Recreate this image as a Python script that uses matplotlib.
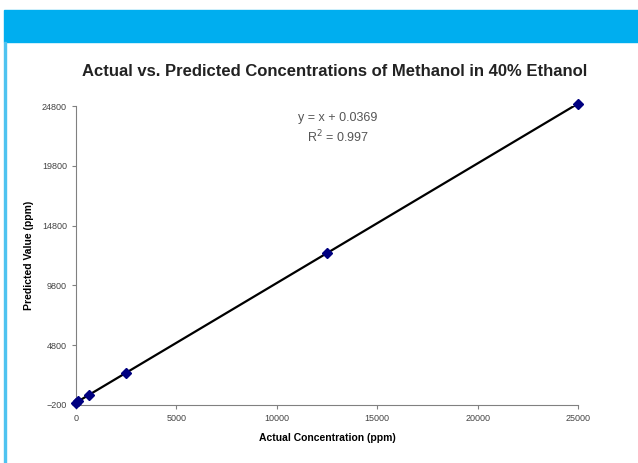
import numpy as np
import matplotlib.pyplot as plt
from matplotlib.patches import Rectangle

plt.rcParams['font.family'] = ['Liberation Sans', 'DejaVu Sans']

# данные
actual = [0, 100, 625, 2500, 12500, 25000]
predicted = [0, 110, 610, 2480, 12520, 25000]
x_ticks = [0, 5000, 10000, 15000, 20000, 25000]
y_ticks = [-200, 4800, 9800, 14800, 19800, 24800]
slope = 1.0
intercept = 0.0369

fig = plt.figure(figsize=(6.38, 4.63), dpi=100)
fig.patch.set_facecolor("white")

# синяя полоса сверху и линия слева
fig.patches.append(Rectangle((4 / 638, 1 - 42 / 463), 634 / 638, 32 / 463,
                             transform=fig.transFigure, color="#00AEEF", zorder=0))
fig.patches.append(Rectangle((4 / 638, 0), 2 / 638, 1 - 42 / 463,
                             transform=fig.transFigure, color="#4FC3F0", zorder=0))

ax = fig.add_axes([76 / 638, 1 - 405 / 463, 502 / 638, 299 / 463])
ax.set_facecolor("white")

xs = np.array([min(actual), max(actual)])
ax.plot(xs, slope * xs + intercept, color="black", lw=1.6, zorder=2)
ax.plot(actual, predicted, linestyle="none", marker="D", markersize=5,
        color="#000080", zorder=3, clip_on=False)

ax.set_xlim(0, 25000)
ax.set_ylim(-200, 24800)
ax.set_xticks(x_ticks)
ax.set_yticks(y_ticks)
ax.tick_params(labelsize=6.5, length=3, color="#808080", labelcolor="#444444")
for s in ["top", "right"]:
    ax.spines[s].set_visible(False)
for s in ["left", "bottom"]:
    ax.spines[s].set_color("#808080")
    ax.spines[s].set_linewidth(0.8)

ax.set_xlabel("Actual Concentration (ppm)", fontsize=7.5, fontweight="bold", labelpad=7)
ax.set_ylabel("Predicted Value (ppm)", fontsize=7.5, fontweight="bold", labelpad=6)

fig.text(335 / 638, 1 - 72 / 463,
         "Actual vs. Predicted Concentrations of Methanol in 40% Ethanol",
         ha="center", va="center", fontsize=12, fontweight="bold", color="#222222")

fig.text(338 / 638, 1 - 118 / 463, "y = x + 0.0369", ha="center", va="center",
         fontsize=9, color="#555555")
fig.text(338 / 638, 1 - 137 / 463, "R$^2$ = 0.997", ha="center", va="center",
         fontsize=9, color="#555555")

plt.savefig("out.png", dpi=100)
